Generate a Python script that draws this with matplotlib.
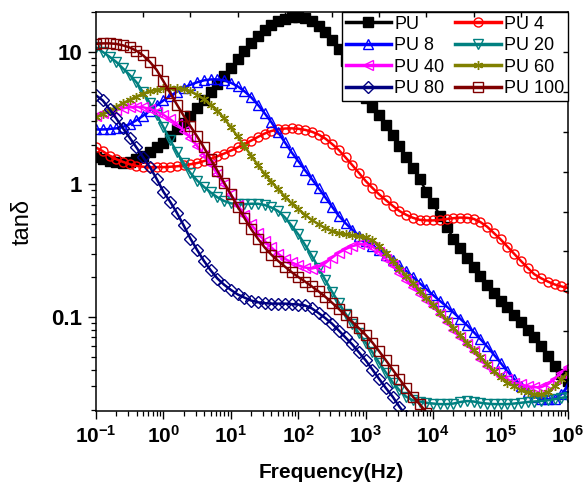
import numpy as np
import matplotlib
matplotlib.use('Agg')
import matplotlib.pyplot as plt
from matplotlib.ticker import FixedLocator, FixedFormatter, LogLocator, NullFormatter

plt.rcParams.update({
    'font.family': 'Liberation Sans',
    'mathtext.fontset': 'custom',
    'mathtext.rm': 'Liberation Sans:bold',
    'mathtext.it': 'Liberation Sans:bold',
    'mathtext.bf': 'Liberation Sans:bold',
    'mathtext.default': 'rm',
})

# measurement grid: 10 points per decade, 0.1 Hz .. 1 MHz
freq = np.logspace(-1, 6, 71)

# tan(delta)
pu = [1.6, 1.55, 1.5, 1.47, 1.45, 1.48, 1.55, 1.64, 1.75, 1.9,
      2.05, 2.3, 2.6, 2.9, 3.3, 3.75, 4.3, 4.95, 5.7, 6.6,
      7.6, 8.8, 10.2, 11.6, 13.2, 14.6, 16.0, 17.1, 17.8, 18.2,
      18.3, 17.9, 17.0, 15.8, 14.2, 12.3, 10.5, 8.5, 6.8, 5.5,
      4.5, 3.85, 3.35, 2.8, 2.35, 1.95, 1.6, 1.32, 1.1, 0.88,
      0.72, 0.58, 0.48, 0.39, 0.33, 0.28, 0.24, 0.205, 0.175, 0.152,
      0.133, 0.118, 0.104, 0.092, 0.08, 0.07, 0.06, 0.051, 0.043, 0.037,
      0.033]
pu4 = [1.9, 1.78, 1.65, 1.55, 1.48, 1.42, 1.38, 1.36, 1.35, 1.35,
       1.35, 1.36, 1.37, 1.39, 1.42, 1.45, 1.5, 1.56, 1.63, 1.71,
       1.8, 1.9, 2.02, 2.14, 2.28, 2.42, 2.53, 2.6, 2.64, 2.65,
       2.63, 2.58, 2.5, 2.38, 2.22, 2.02, 1.82, 1.6, 1.4, 1.22,
       1.06, 0.94, 0.84, 0.76, 0.69, 0.63, 0.59, 0.56, 0.54, 0.535,
       0.535, 0.54, 0.548, 0.556, 0.562, 0.56, 0.55, 0.52, 0.48, 0.43,
       0.385, 0.34, 0.3, 0.265, 0.235, 0.21, 0.196, 0.185, 0.176, 0.17,
       0.165]
pu8 = [2.6, 2.6, 2.62, 2.65, 2.72, 2.85, 3.05, 3.3, 3.6, 3.95,
       4.3, 4.65, 5.0, 5.35, 5.65, 5.9, 6.1, 6.2, 6.2, 6.1,
       5.85, 5.5, 5.05, 4.55, 4.0, 3.45, 2.95, 2.48, 2.08, 1.75,
       1.5, 1.28, 1.1, 0.94, 0.8, 0.68, 0.58, 0.51, 0.455, 0.41,
       0.375, 0.345, 0.32, 0.295, 0.27, 0.245, 0.222, 0.2, 0.18, 0.162,
       0.146, 0.132, 0.12, 0.108, 0.097, 0.087, 0.077, 0.068, 0.06, 0.052,
       0.045, 0.039, 0.034, 0.03, 0.027, 0.025, 0.024, 0.024, 0.024, 0.026,
       0.03]
pu20 = [10.8, 10.0, 9.2, 8.4, 7.5, 6.7, 5.9, 4.95, 4.1, 3.35,
        2.7, 2.15, 1.75, 1.45, 1.22, 1.07, 0.96, 0.87, 0.8, 0.75,
        0.72, 0.71, 0.71, 0.715, 0.715, 0.7, 0.67, 0.63, 0.565, 0.49,
        0.42, 0.35, 0.29, 0.235, 0.19, 0.155, 0.128, 0.106, 0.089, 0.075,
        0.064, 0.054, 0.045, 0.038, 0.032, 0.028, 0.025, 0.0235, 0.023, 0.0225,
        0.0222, 0.022, 0.022, 0.0222, 0.0228, 0.0232, 0.023, 0.0225, 0.0222, 0.022,
        0.022, 0.022, 0.0222, 0.0225, 0.0228, 0.023, 0.0232, 0.0235, 0.024, 0.0245,
        0.025]
pu40 = [3.3, 3.45, 3.55, 3.65, 3.75, 3.82, 3.85, 3.82, 3.72, 3.55,
        3.35, 3.1, 2.85, 2.55, 2.25, 1.95, 1.68, 1.43, 1.2, 1.0,
        0.84, 0.7, 0.59, 0.5, 0.43, 0.375, 0.335, 0.3, 0.275, 0.258,
        0.245, 0.236, 0.232, 0.238, 0.255, 0.28, 0.305, 0.325, 0.342, 0.353,
        0.355, 0.34, 0.31, 0.275, 0.245, 0.215, 0.19, 0.168, 0.15, 0.135,
        0.12, 0.105, 0.092, 0.08, 0.07, 0.062, 0.055, 0.048, 0.043, 0.039,
        0.036, 0.034, 0.032, 0.031, 0.03, 0.0295, 0.0295, 0.031, 0.034, 0.038,
        0.042]
pu60 = [3.2, 3.4, 3.6, 3.85, 4.1, 4.35, 4.6, 4.85, 5.05, 5.2,
        5.3, 5.35, 5.35, 5.25, 5.05, 4.75, 4.4, 4.0, 3.6, 3.15,
        2.7, 2.3, 1.95, 1.65, 1.4, 1.2, 1.05, 0.92, 0.81, 0.72,
        0.65, 0.59, 0.54, 0.5, 0.47, 0.445, 0.43, 0.42, 0.412, 0.405,
        0.398, 0.38, 0.345, 0.305, 0.265, 0.232, 0.205, 0.18, 0.158, 0.14,
        0.124, 0.108, 0.095, 0.083, 0.073, 0.064, 0.056, 0.05, 0.044, 0.039,
        0.035, 0.032, 0.03, 0.028, 0.027, 0.026, 0.026, 0.027, 0.03, 0.034,
        0.038]
pu80 = [4.7, 4.3, 3.7, 3.15, 2.65, 2.25, 1.9, 1.6, 1.35, 1.1,
        0.88, 0.74, 0.61, 0.49, 0.39, 0.32, 0.265, 0.225, 0.195, 0.175,
        0.16, 0.148, 0.14, 0.133, 0.129, 0.127, 0.126, 0.126, 0.126, 0.125,
        0.124, 0.122, 0.116, 0.107, 0.098, 0.089, 0.079, 0.07, 0.062, 0.054,
        0.047, 0.04, 0.034, 0.029, 0.025, 0.021, 0.018, 0.016]
pu100 = [11.5, 11.6, 11.6, 11.5, 11.2, 10.8, 10.2, 9.4, 8.4, 7.3,
         6.0, 4.9, 4.0, 3.3, 2.75, 2.3, 1.9, 1.55, 1.27, 1.03,
         0.84, 0.68, 0.56, 0.46, 0.39, 0.335, 0.295, 0.265, 0.24, 0.218,
         0.2, 0.185, 0.17, 0.156, 0.142, 0.128, 0.115, 0.103, 0.092, 0.082,
         0.073, 0.064, 0.055, 0.047, 0.04, 0.034, 0.029, 0.025, 0.022, 0.019]

series = [
    ('PU',     pu,    '#000000', 's',       True),
    ('PU 4',   pu4,   '#ff0000', 'o',       False),
    ('PU 8',   pu8,   '#0000ff', '^',       False),
    ('PU 20',  pu20,  '#008080', 'v',       False),
    ('PU 40',  pu40,  '#ff00ff', '<',       False),
    ('PU 60',  pu60,  '#808000', (6, 2, 0), False),
    ('PU 80',  pu80,  '#000080', 'D',       False),
    ('PU 100', pu100, '#800000', 's',       False),
]

fig = plt.figure(figsize=(5.83, 4.93), dpi=100)
ax = fig.add_axes([0.1647, 0.1663, 0.8096, 0.8093])

handles = []
for label, vals, col, mk, filled in series:
    ln, = ax.plot(freq[:len(vals)], vals, color=col, lw=1.8, marker=mk, ms=6.5,
                  mfc=col if filled else 'none', mec=col, mew=1.0, label=label)
    handles.append(ln)

ax.set_xscale('log')
ax.set_yscale('log')
ax.set_xlim(0.1, 1e6)
ax.set_ylim(0.0195, 20)

xt = [1e-1, 1, 10, 100, 1e3, 1e4, 1e5, 1e6]
xl = [r'$10^{-1}$', r'$10^{0}$', r'$10^{1}$', r'$10^{2}$',
      r'$10^{3}$', r'$10^{4}$', r'$10^{5}$', r'$10^{6}$']
ax.xaxis.set_major_locator(FixedLocator(xt))
ax.xaxis.set_major_formatter(FixedFormatter(xl))
ax.xaxis.set_minor_locator(LogLocator(base=10, subs=np.arange(2, 10), numticks=20))
ax.xaxis.set_minor_formatter(NullFormatter())
ax.yaxis.set_major_locator(FixedLocator([0.1, 1, 10]))
ax.yaxis.set_major_formatter(FixedFormatter(['0.1', '1', '10']))
ax.yaxis.set_minor_locator(LogLocator(base=10, subs=np.arange(2, 10), numticks=20))
ax.yaxis.set_minor_formatter(NullFormatter())

ax.tick_params(which='major', direction='out', length=6, width=1, pad=4)
ax.tick_params(axis='x', which='major', labelsize=15)
ax.tick_params(axis='y', which='major', labelsize=16)
ax.tick_params(which='minor', direction='out', length=3.5, width=0.9)
for t in ax.get_yticklabels():
    t.set_fontweight('bold')
for s in ax.spines.values():
    s.set_linewidth(1.1)

ax.set_xlabel('Frequency(Hz)', fontsize=15, fontweight='bold')
ax.xaxis.set_label_coords(0.498, -0.13)
ax.set_ylabel('tanδ', fontsize=17)
ax.yaxis.set_label_coords(-0.133, 0.474)

# legend filled row by row like the original (matplotlib fills by column)
order = [0, 2, 4, 6, 1, 3, 5, 7]
leg = ax.legend([handles[i] for i in order], [series[i][0] for i in order],
                loc='upper right', bbox_to_anchor=(1.0, 1.0), borderaxespad=0,
                ncol=2, fontsize=13, numpoints=1, handlelength=2.5,
                handletextpad=0.2, columnspacing=0.6, labelspacing=0.25,
                borderpad=0.2, fancybox=False, framealpha=1, edgecolor='black')
leg.get_frame().set_linewidth(1.0)
for ln in leg.get_lines():
    ln.set_linewidth(2.5)

# inner ticks on top and right at ten equal divisions
ax_t = fig.add_axes(ax.get_position(), frameon=False)
ax_t.set_xlim(0, 1)
ax_t.set_ylim(0, 1)
ax_t.xaxis.set_ticks_position('top')
ax_t.yaxis.set_ticks_position('right')
ax_t.set_xticks(np.linspace(0, 1, 11)[1:-1])
ax_t.set_yticks(np.linspace(0, 1, 11)[1:-1])
ax_t.tick_params(direction='in', length=3.5, width=1,
                 labeltop=False, labelright=False,
                 labelbottom=False, labelleft=False)

fig.savefig('out.png', dpi=100)
